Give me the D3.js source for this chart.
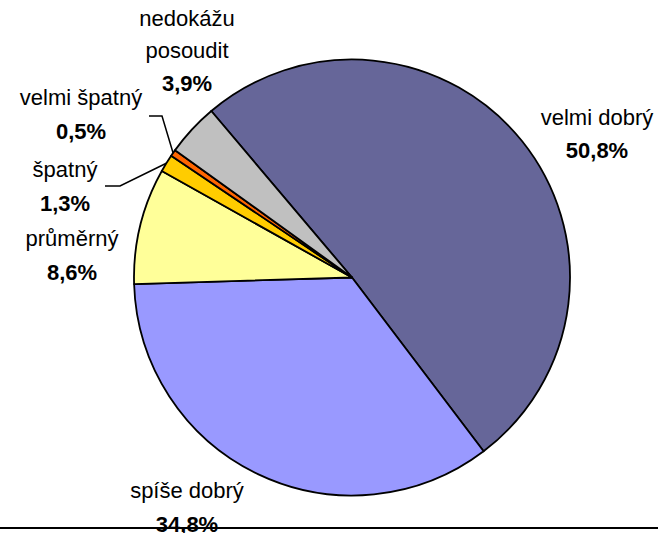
<!DOCTYPE html>
<html>
<head>
<meta charset="utf-8">
<script src="https://cdn.jsdelivr.net/npm/d3@7"></script>
<style>
  body { margin: 0; background: #fff; }
  svg { display: block; font-family: "Liberation Sans", Arial, sans-serif; }
</style>
</head>
<body>
<div id="chart"></div>
<script>
const categories = ["velmi dobrý", "spíše dobrý", "průměrný", "špatný", "velmi špatný", "nedokážu posoudit"];
const values = [50.8, 34.8, 8.6, 1.3, 0.5, 3.9];
const colors = ["#666699", "#9999ff", "#ffff99", "#ffcc00", "#ff6600", "#c0c0c0"];

// label layout: text lines, centre x, baseline of first line, line step
const labelLayout = [
  { lines: ["velmi dobrý"], x: 597, y: 125, step: 32 },
  { lines: ["spíše dobrý"], x: 187, y: 498, step: 33 },
  { lines: ["průměrný"], x: 72, y: 246, step: 33 },
  { lines: ["špatný"], x: 65, y: 177, step: 33, leader: [[105, 186], [120, 186]] },
  { lines: ["velmi špatný"], x: 81, y: 105, step: 33, leader: [[149, 116], [162, 116]] },
  { lines: ["nedokážu", "posoudit"], x: 187, y: 26, step: 32 }
];

const width = 659;
const height = 533;
const cx = 352;
const cy = 277.5;
const radius = 218;

const svg = d3
  .select("#chart")
  .append("svg")
  .attr("width", width)
  .attr("height", height)
  .attr("viewBox", [0, 0, width, height]);

const startAngle = (-40.2 * Math.PI) / 180;
const pie = d3
  .pie()
  .sort(null)
  .value((d) => d)
  .startAngle(startAngle)
  .endAngle(startAngle + 2 * Math.PI);

const arcs = pie(values);
const arc = d3.arc().innerRadius(0).outerRadius(radius);

const g = svg.append("g").attr("transform", `translate(${cx},${cy})`);

g.selectAll("path")
  .data(arcs)
  .join("path")
  .attr("d", arc)
  .attr("fill", (d, i) => colors[i])
  .attr("stroke", "#000")
  .attr("stroke-width", 1.8)
  .attr("stroke-linejoin", "round");

const fmt = (v) => d3.format(".1f")(v).replace(".", ",") + "%";

// leader lines for the thin slices
arcs.forEach((d, i) => {
  const lay = labelLayout[i];
  if (!lay.leader) return;
  const mid = (d.startAngle + d.endAngle) / 2;
  const px = cx + radius * Math.sin(mid);
  const py = cy - radius * Math.cos(mid);
  const pts = lay.leader.concat([[px, py]]);
  svg
    .append("path")
    .attr("d", d3.line()(pts))
    .attr("fill", "none")
    .attr("stroke", "#000")
    .attr("stroke-width", 1.5);
});

const labels = svg
  .selectAll("text.lbl")
  .data(arcs)
  .join("text")
  .attr("class", "lbl")
  .attr("text-anchor", "middle")
  .attr("font-size", 22)
  .attr("fill", "#000");

labels.each(function (d, i) {
  const lay = labelLayout[i];
  const t = d3.select(this);
  lay.lines.forEach((line, k) => {
    t.append("tspan")
      .attr("x", lay.x)
      .attr("y", lay.y + k * lay.step)
      .text(line);
  });
  t.append("tspan")
    .attr("x", lay.x)
    .attr("y", lay.y + lay.lines.length * lay.step + 1)
    .attr("font-weight", "bold")
    .text(fmt(values[i]));
});

// bottom rule
svg
  .append("line")
  .attr("x1", 0)
  .attr("x2", 658)
  .attr("y1", 528)
  .attr("y2", 528)
  .attr("stroke", "#000")
  .attr("stroke-width", 2);
</script>
</body>
</html>
